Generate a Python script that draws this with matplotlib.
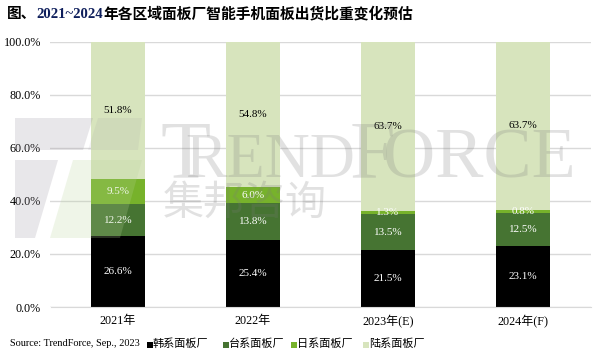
import matplotlib
matplotlib.use("Agg")
import matplotlib.pyplot as plt
from matplotlib.patches import Rectangle, Polygon
import numpy as np

categories = ["2021年", "2022年", "2023年(E)", "2024年(F)"]
series_names = ["韩系面板厂", "台系面板厂", "日系面板厂", "陆系面板厂"]
korea = [26.6, 25.4, 21.5, 23.1]
taiwan = [12.2, 13.8, 13.5, 12.5]
japan = [9.5, 6.0, 1.3, 0.8]
china = [51.8, 54.8, 63.7, 63.7]
yticks = [0, 20, 40, 60, 80, 100]

colors = ["#000000", "#467432", "#77b22b", "#d7e4bd"]
label_colors = ["white", "white", "white", "black"]

W, H = 603, 353
fig = plt.figure(figsize=(W / 100, H / 100), dpi=100)
FAM = ["Liberation Serif", "Noto Sans CJK SC"]

def fx(x):
    return x / W

def fy(y):
    return 1 - y / H

ax = fig.add_axes([fx(50.5), fy(307), fx(590.5) - fx(50.5), fy(41.7) - fy(307)])

x = np.arange(len(categories))
bottom = np.zeros(len(categories))
for vals, c, lc in zip([korea, taiwan, japan, china], colors, label_colors):
    vals = np.array(vals)
    ax.bar(x, vals, 0.4, bottom=bottom, color=c, zorder=2)
    for xi, b, v in zip(x, bottom, vals):
        ax.text(xi, b + v / 2, f"{v:.1f}%", ha="center", va="center",
                color=lc, fontsize=8, family=FAM, zorder=4)
    bottom += vals

ax.set_xlim(-0.5, len(categories) - 0.5)
ax.set_ylim(0, 100)
ax.set_yticks(yticks)
ax.set_yticklabels([f"{t:.1f}%" for t in yticks], family=FAM, fontsize=8.7)
ax.set_xticks(x)
ax.set_xticklabels(categories, family=FAM, fontsize=8.7)
ax.tick_params(length=0, pad=7)
ax.tick_params(axis="x", pad=6)
ax.grid(axis="y", color="#d9d9d9", linewidth=1, zorder=0)
for s in ["top", "right", "left"]:
    ax.spines[s].set_visible(False)
ax.spines["bottom"].set_color("#d9d9d9")
ax.set_axisbelow(True)

# Watermark
wm = dict(color="#7a7a7a", alpha=0.22, zorder=10)
def poly(pts, **kw):
    p = Polygon([(fx(a), fy(b)) for a, b in pts], closed=True,
                transform=fig.transFigure, linewidth=0, **kw)
    fig.add_artist(p)

poly([(15, 118), (93, 118), (83, 150), (15, 150)], facecolor="#9a94a0", alpha=0.22, zorder=10)
poly([(98, 118), (142, 118), (138, 150), (88, 150)], facecolor="#9a94a0", alpha=0.12, zorder=10)
poly([(15, 160), (58, 160), (35, 238), (15, 238)], facecolor="#9a94a0", alpha=0.22, zorder=10)
poly([(73, 160), (142, 160), (120, 238), (50, 238)], facecolor="#b8d49a", alpha=0.22, zorder=10)

tf = dict(family="Liberation Serif", va="baseline", ha="left", transform=fig.transFigure)
fig.text(fx(160), fy(177), "T", fontsize=59, **tf, **wm)
fig.text(fx(185), fy(177), "REND", fontsize=45, **tf, **wm)
fig.text(fx(350), fy(177), "F", fontsize=59, **tf, **wm)
fig.text(fx(383), fy(177), "ORCE", fontsize=52, **tf, **wm)
fig.text(fx(163), fy(203), "集邦咨询", fontsize=29.5, family="Noto Sans CJK SC",
         va="center", ha="left", **wm)

# Title in pieces
fig.canvas.draw()
r = fig.canvas.get_renderer()
pieces = [("图、", "black"), ("2021~2024", "#0f1f5c"), ("年各区域面板厂智能手机面板出货比重变化预估", "black")]
cx = 7
for txt, col in pieces:
    t = fig.text(fx(cx), fy(14), txt, fontsize=10.6, fontweight="bold", family=FAM,
                 color=col, va="center", ha="left")
    bb = t.get_window_extent(renderer=r)
    cx += bb.width

# Source & legend
fig.text(fx(10), fy(344), "Source: TrendForce, Sep., 2023", fontsize=7.4,
         family=FAM, va="center", ha="left")
leg_x = [147, 223, 291, 363]
for lx, name, c in zip(leg_x, series_names, colors):
    fig.add_artist(Rectangle((fx(lx), fy(347.5)), 6 / W, 6 / H, facecolor=c,
                             edgecolor="none", transform=fig.transFigure))
    fig.text(fx(lx + 6), fy(344), name, fontsize=8, family=FAM, va="center", ha="left")

fig.savefig("out.png", dpi=100)
